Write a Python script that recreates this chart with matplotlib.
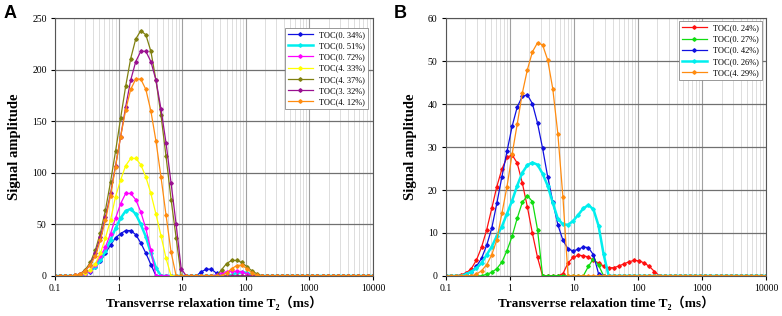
import matplotlib
matplotlib.use('Agg')
import matplotlib.pyplot as plt
import numpy as np

# T2 bins of the NMR instrument (64 log-spaced bins, 0.1 - 10000 ms)
t2 = np.logspace(-1, 4, 64)


def series(*segments):
    # segments: (start index, values) pairs, zero elsewhere
    y = np.zeros(len(t2))
    for start, vals in segments:
        y[start:start + len(vals)] = vals
    return y


# Panel A
labels_a = ['TOC(0. 34%)', 'TOC(0. 51%)', 'TOC(0. 72%)', 'TOC(4. 33%)',
            'TOC(4. 37%)', 'TOC(3. 32%)', 'TOC(4. 12%)']
colors_a = ['#1010e0', '#00eeee', '#ff00ff', '#ffff00', '#808010', '#9a1090', '#ff8c10']
a_034 = series((5, [0.5, 2, 4, 9, 14, 22, 30, 37, 41, 44, 44, 40, 32, 22, 11]),
               (29, [4, 6.5, 6.5, 2.5]))
a_051 = series((5, [0.5, 2, 5, 9, 15, 24, 35, 46, 56, 63, 65, 60, 50, 38, 22, 8]),
               (35, [1, 3, 3.5, 3, 1]))
a_072 = series((5, [0.5, 2, 5, 11, 19, 28, 41, 56, 70, 80, 80, 74, 62, 46, 25]),
               (32, [1, 3, 4, 4.5, 4.5, 4, 2]))
a_433 = series((4, [0.3, 1, 3, 6, 12, 22, 37, 54, 77, 93, 107, 114, 114, 108, 96, 80, 60, 39, 17]))
a_437 = series((4, [0.5, 2, 6, 13, 25, 42, 64, 91, 121, 153, 184, 211, 230, 238, 234, 218, 190,
                    156, 116, 74, 37]),
               (33, [6, 12, 15, 15, 13, 9, 5, 2]))
a_332 = series((4, [0.5, 2, 5, 11, 22, 38, 57, 80, 107, 135, 164, 190, 208, 218, 218, 208, 190,
                    162, 129, 90, 50, 7]))
a_412 = series((4, [0.5, 2, 5, 11, 19, 35, 54, 78, 106, 135, 161, 181, 191, 191, 181, 160, 131,
                    96, 59, 23]),
               (34, [3, 7, 10, 10.5, 7, 3, 0.5]))
data_a = [a_034, a_051, a_072, a_433, a_437, a_332, a_412]

# Panel B
labels_b = ['TOC(0. 24%)', 'TOC(0. 27%)', 'TOC(0. 42%)', 'TOC(0. 26%)', 'TOC(4. 29%)']
colors_b = ['#ff1010', '#10dd10', '#1010e0', '#00eeee', '#ff8c10']
b_024 = series((3, [0.3, 0.7, 1.7, 3.7, 6.7, 10.7, 15.7, 20.8, 24.9, 27.6, 28.2, 26.3, 21.7,
                    16.1, 9.9, 4.3]),
               (23, [0.5, 3, 4.3, 4.8, 4.7, 4.4, 3.6, 3.0, 2.3, 1.9, 1.9, 2.3, 2.8, 3.3, 3.6,
                     3.5, 3.0, 2.2, 1.0]))
b_027 = series((8, [0.4, 0.8, 1.7, 3.2, 5.9, 9.2, 13.4, 17.1, 18.7, 17.3, 10.8]),
               (28, [2.2, 4.0, 2.5]))
b_042 = series((4, [0.4, 1.0, 2.2, 4.1, 7.1, 11.1, 16.9, 23.1, 29.0, 34.8, 39.3, 41.8, 42.2,
                    40.1, 35.6, 29.7, 23.1, 17.3, 11.9, 8.3, 6.3, 5.8, 6.2, 6.7, 6.6, 4.9, 0.5]))
b_026 = series((4, [0.4, 1.0, 1.8, 3.0, 4.9, 6.8, 9.3, 11.5, 14.5, 17.5, 21.0, 24.0, 25.8, 26.4,
                    25.9, 23.8, 21.0, 17.0, 13.3, 12.0, 11.9, 12.8, 14.2, 15.7, 16.5, 15.5,
                    11.7, 5.0]))
b_429 = series((6, [0.4, 1.2, 2.6, 4.9, 8.4, 14.6, 20.8, 28.3, 35.3, 42.5, 48.0, 52.2, 54.3,
                    53.8, 50.3, 43.6, 33.1, 18.3]))
data_b = [b_024, b_027, b_042, b_026, b_429]

serif = ['Liberation Serif', 'DejaVu Serif', 'Noto Sans CJK SC']
plt.rcParams['font.family'] = serif

fig = plt.figure(figsize=(7.82, 3.16), dpi=100)
ax_a = fig.add_axes([0.0703, 0.127, 0.4067, 0.815])
ax_b = fig.add_axes([0.5703, 0.127, 0.4097, 0.815])


def draw(ax, data, labels, colors, ymax, ystep, leg_anchor):
    for y, lab, c in zip(data, labels, colors):
        lw = 1.8 if c == '#00eeee' else 0.9
        ax.plot(t2, y, color=c, lw=lw, marker='D', ms=1.8, label=lab)
    ax.set_xscale('log')
    ax.set_xlim(0.1, 10000)
    ax.set_ylim(0, ymax)
    ax.set_xticks([0.1, 1, 10, 100, 1000, 10000])
    ax.set_xticklabels(['0.1', '1', '10', '100', '1000', '10000'])
    ax.set_yticks(np.arange(0, ymax + 1, ystep))
    ax.grid(True, which='major', axis='y', color='#707070', lw=0.9)
    ax.grid(True, which='major', axis='x', color='#a0a0a0', lw=0.8)
    ax.grid(True, which='minor', axis='x', color='#d8d8d8', lw=0.6)
    ax.set_axisbelow(True)
    ax.tick_params(direction='out', labelsize=7, length=3, pad=3)
    ax.tick_params(which='minor', length=0)
    for s in ax.spines.values():
        s.set_color('#555555')
        s.set_linewidth(0.8)
    ax.set_ylabel('Signal amplitude', fontsize=10.5, fontweight='bold', labelpad=8)
    ax.set_xlabel('Transverrse relaxation time T\u2082（ms）', fontsize=9.5,
                  fontweight='bold', labelpad=2)
    leg = ax.legend(loc='upper right', bbox_to_anchor=leg_anchor, fontsize=6, frameon=True,
                    fancybox=False, edgecolor='#888888', framealpha=1, handlelength=3.0,
                    borderaxespad=0.0, labelspacing=0.38, borderpad=0.35)
    leg.get_frame().set_linewidth(0.6)


draw(ax_a, data_a, labels_a, colors_a, 250, 50, (0.985, 0.962))
draw(ax_b, data_b, labels_b, colors_b, 60, 10, (0.987, 0.988))

fig.text(0.005, 0.985, 'A', fontsize=13, fontweight='bold', va='top', family='Liberation Sans')
fig.text(0.503, 0.985, 'B', fontsize=13, fontweight='bold', va='top', family='Liberation Sans')

fig.savefig('out.png', dpi=100)
